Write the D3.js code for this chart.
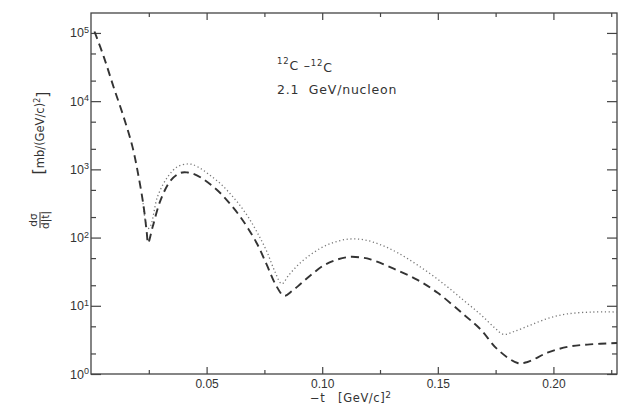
<!DOCTYPE html>
<html>
<head>
<meta charset="utf-8">
<script src="https://cdn.jsdelivr.net/npm/d3@7"></script>
<style>
  body { margin: 0; background: #fff; }
  svg { font-family: "DejaVu Sans", sans-serif; }
  text { white-space: pre; }
</style>
</head>
<body>
<svg id="chart" width="618" height="405"></svg>
<script>
// -t values [(GeV/c)^2] and dsigma/d|t| values [mb/(GeV/c)^2]
const tDashed = [0.0015, 0.0055, 0.0098, 0.0141, 0.018, 0.0206, 0.0228, 0.0241, 0.0247,
  0.0267, 0.0301, 0.0345, 0.0388, 0.0418, 0.044, 0.048, 0.052, 0.056, 0.060, 0.064, 0.068,
  0.072, 0.076, 0.080, 0.0835, 0.087, 0.0907, 0.095, 0.1006, 0.106, 0.1115, 0.117, 0.1209,
  0.1309, 0.1412, 0.1499, 0.1611, 0.1685, 0.1758, 0.1845, 0.1888, 0.1974, 0.2061, 0.2147, 0.2275];
const sigmaDashed = [1.05e5, 4.5e4, 1.6e4, 5.9e3, 2.1e3, 780, 280, 120, 83,
  145, 355, 690, 890, 900, 871, 741, 589, 447, 316, 214, 135,
  79, 40, 20, 14, 16.5, 21, 28, 39, 47, 52, 51, 48,
  35, 24, 15.5, 7.5, 4.5, 2.3, 1.45, 1.5, 2.05, 2.5, 2.7, 2.85];

const tDotted = [0.0225, 0.0245, 0.0258, 0.0288, 0.0332, 0.0375, 0.0418, 0.044, 0.048, 0.052,
  0.056, 0.060, 0.064, 0.068, 0.072, 0.076, 0.0795, 0.0825, 0.0855, 0.089, 0.093, 0.099,
  0.105, 0.1115, 0.118, 0.125, 0.1326, 0.1425, 0.1525, 0.1612, 0.1686, 0.1745, 0.1785,
  0.183, 0.19, 0.198, 0.206, 0.217, 0.2275];
const sigmaDotted = [320, 135, 150, 400, 780, 1100, 1200, 1175, 1000, 794,
  617, 447, 309, 200, 117, 63, 32, 21, 28, 38, 50, 69,
  85, 95, 93, 79, 60, 37, 21, 12, 7.4, 4.8, 3.8,
  4.2, 5.2, 6.6, 7.6, 8.1, 8.1];

const xMajorTicks = [0.05, 0.10, 0.15, 0.20];
const xTickLabels = ["0.05", "0.10", "0.15", "0.20"];
const xMinorTicks = [0.025, 0.075, 0.125, 0.175, 0.225];
const yDecades = [1, 10, 100, 1000, 1e4, 1e5];
const yExponents = ["0", "1", "2", "3", "4", "5"];
const yMinorTicks = [2, 5, 20, 50, 200, 500, 2000, 5000, 2e4, 5e4];

const margin = { top: 13, right: 1, bottom: 31, left: 91 };
const width = 618 - margin.left - margin.right;
const height = 405 - margin.top - margin.bottom;
const ink = "#444";

const svg = d3.select("#chart");
const g = svg.append("g").attr("transform", `translate(${margin.left},${margin.top})`);

const x = d3.scaleLinear().domain([0, 0.2275]).range([0, width]);
const y = d3.scaleLog().domain([1, 1.96e5]).range([height, 0]);

// frame
g.append("rect")
  .attr("width", width).attr("height", height)
  .attr("fill", "none").attr("stroke", ink).attr("stroke-width", 1.3);

function styleAxis(sel) {
  sel.select(".domain").remove();
  sel.selectAll("line").attr("stroke", ink).attr("stroke-width", 1.2);
  sel.selectAll("text").attr("fill", "#333").style("font-size", "12px");
}

// bottom axis
g.append("g").attr("transform", `translate(0,${height})`)
  .call(d3.axisBottom(x).tickValues(xMajorTicks).tickSizeInner(-7).tickSizeOuter(0).tickPadding(5)
    .tickFormat((d, i) => xTickLabels[i]))
  .call(styleAxis);
g.append("g").attr("transform", `translate(0,${height})`)
  .call(d3.axisBottom(x).tickValues(xMinorTicks).tickSizeInner(-4).tickSizeOuter(0).tickFormat(""))
  .call(styleAxis);

// top axis
g.append("g")
  .call(d3.axisTop(x).tickValues(xMajorTicks).tickSizeInner(-7).tickSizeOuter(0).tickFormat(""))
  .call(styleAxis);
g.append("g")
  .call(d3.axisTop(x).tickValues(xMinorTicks).tickSizeInner(-4).tickSizeOuter(0).tickFormat(""))
  .call(styleAxis);

// left axis with 10^n labels
const left = g.append("g")
  .call(d3.axisLeft(y).tickValues(yDecades).tickSizeInner(-10).tickSizeOuter(0).tickPadding(2)
    .tickFormat(() => "10"))
  .call(styleAxis);
left.selectAll(".tick text").style("font-size", "12.5px").each(function(d, i) {
  d3.select(this).append("tspan")
    .attr("dy", "-0.5em").style("font-size", "9px")
    .text(yExponents[i]);
});
g.append("g")
  .call(d3.axisLeft(y).tickValues(yMinorTicks).tickSizeInner(-5).tickSizeOuter(0).tickFormat(""))
  .call(styleAxis);

// right axis
g.append("g").attr("transform", `translate(${width},0)`)
  .call(d3.axisRight(y).tickValues(yDecades).tickSizeInner(-10).tickSizeOuter(0).tickFormat(""))
  .call(styleAxis);
g.append("g").attr("transform", `translate(${width},0)`)
  .call(d3.axisRight(y).tickValues(yMinorTicks).tickSizeInner(-5).tickSizeOuter(0).tickFormat(""))
  .call(styleAxis);

// curves
const line = d3.line().curve(d3.curveCatmullRom.alpha(0.5)).x(d => x(d[0])).y(d => y(d[1]));

g.append("path")
  .datum(d3.zip(tDotted, sigmaDotted))
  .attr("d", line)
  .attr("fill", "none").attr("stroke", "#777").attr("stroke-width", 1.3)
  .attr("stroke-dasharray", "1.2,2.6");

g.append("path")
  .datum(d3.zip(tDashed, sigmaDashed))
  .attr("d", line)
  .attr("fill", "none").attr("stroke", "#333").attr("stroke-width", 1.9)
  .attr("stroke-dasharray", "8,5");

// annotation
const note = svg.append("g").attr("fill", "#333").style("font-size", "12.5px").style("letter-spacing", "0.8px");
const t1 = note.append("text").attr("x", 277).attr("y", 68);
t1.append("tspan").attr("dy", "-0.45em").style("font-size", "8.5px").text("12");
t1.append("tspan").attr("dy", "0.45em").text("C \u2013");
t1.append("tspan").attr("dy", "-0.45em").style("font-size", "8.5px").text("12");
t1.append("tspan").attr("dy", "0.45em").text("C");
note.append("text").attr("x", 277).attr("y", 94).text("2.1  GeV/nucleon");

// x title
const xt = svg.append("text").attr("x", 310).attr("y", 402).attr("fill", "#333")
  .style("font-size", "11.5px").style("letter-spacing", "0.6px");
xt.append("tspan").text("\u2212t   [GeV/c]");
xt.append("tspan").attr("dy", "-0.5em").style("font-size", "9px").text("2");

// y title (rotated)
const yt = svg.append("g").attr("transform", "translate(40,0) rotate(-90)").attr("fill", "#333");
yt.append("text").attr("x", -220).attr("y", -3).attr("text-anchor", "middle")
  .style("font-size", "10.5px").text("d\u03c3");
yt.append("line").attr("x1", -228).attr("x2", -212).attr("y1", 0).attr("y2", 0)
  .attr("stroke", "#333").attr("stroke-width", 1);
yt.append("text").attr("x", -220).attr("y", 9).attr("text-anchor", "middle")
  .style("font-size", "10.5px").text("d|t|");
const unit = yt.append("text").attr("x", -133).attr("y", 4).attr("text-anchor", "middle")
  .style("font-size", "11.5px");
unit.append("tspan").style("font-size", "16px").text("[");
unit.append("tspan").text("mb/(GeV/c)");
unit.append("tspan").attr("dy", "-0.5em").style("font-size", "8px").text("2");
unit.append("tspan").attr("dy", "0.5em").style("font-size", "16px").text("]");
</script>
</body>
</html>
